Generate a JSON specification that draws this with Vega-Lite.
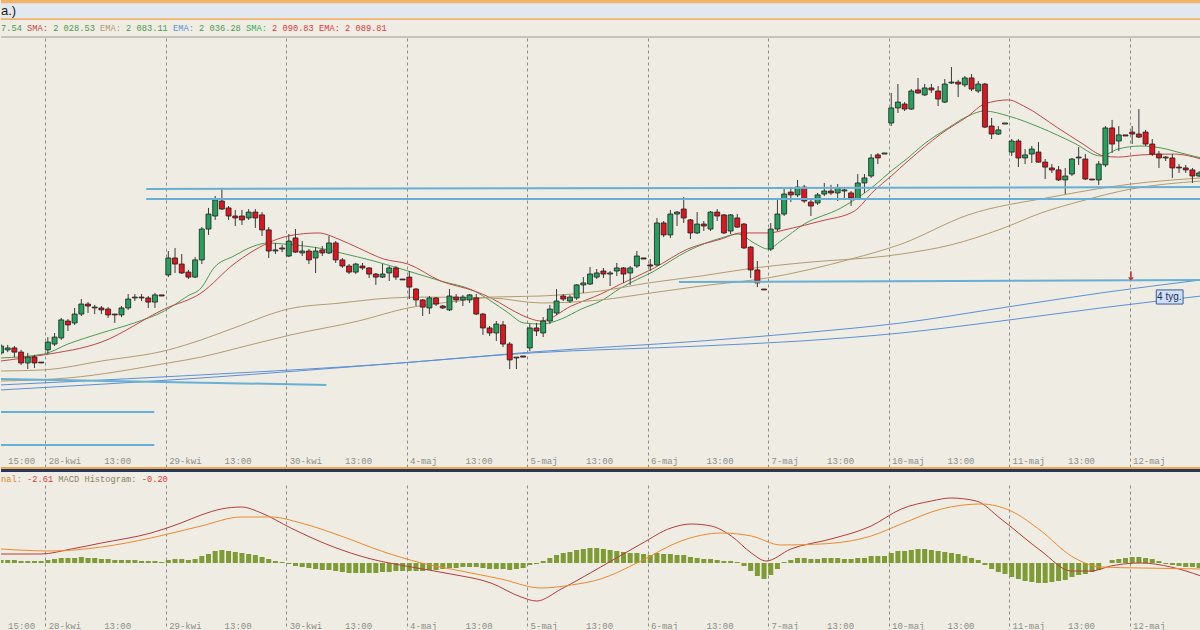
{
"$schema":"https://vega.github.io/schema/vega-lite/v6.json",
"background":"#EEECE3",
"padding":0,
"spacing":0,
"config":{"view":{"stroke":null},"concat":{"spacing":0}},
"datasets":{
"candles":[
{"i":11,"o":2002.1,"h":2006.2,"l":2001.2,"c":2005.3},{"i":12,"o":2003.5,"h":2005.8,"l":2002.5,"c":2004.4},{"i":13,"o":2004.4,"h":2005.3,"l":2000.2,"c":2002.5},{"i":14,"o":2002.5,"h":2003.5,"l":1996.6,"c":1997.5},{"i":15,"o":1997.5,"h":2002.1,"l":1994.7,"c":2000.2},{"i":16,"o":2000.2,"h":2001.2,"l":1995.2,"c":1997.5},{"i":17,"o":1997.9,"h":1997.9,"l":1997.5,"c":1997.5},
{"i":18,"o":2003.5,"h":2009.4,"l":2001.6,"c":2007.1},{"i":19,"o":2006.2,"h":2011.3,"l":2005.3,"c":2009.4},{"i":20,"o":2009.0,"h":2018.2,"l":2008.1,"c":2017.3},{"i":21,"o":2016.8,"h":2017.7,"l":2012.2,"c":2015.0},{"i":22,"o":2015.9,"h":2022.8,"l":2015.0,"c":2020.0},{"i":23,"o":2020.0,"h":2026.9,"l":2019.1,"c":2024.6},{"i":24,"o":2024.6,"h":2025.5,"l":2020.5,"c":2023.7},{"i":25,"o":2022.8,"h":2024.2,"l":2020.0,"c":2023.2},{"i":26,"o":2022.8,"h":2023.7,"l":2020.0,"c":2021.9},{"i":27,"o":2022.3,"h":2023.2,"l":2018.2,"c":2019.6},{"i":28,"o":2020.0,"h":2020.0,"l":2015.9,"c":2019.6},{"i":29,"o":2019.6,"h":2023.7,"l":2018.6,"c":2022.8},{"i":30,"o":2022.8,"h":2029.2,"l":2021.9,"c":2026.9},{"i":31,"o":2027.4,"h":2029.2,"l":2026.0,"c":2027.8},{"i":32,"o":2027.8,"h":2029.2,"l":2026.0,"c":2027.4},{"i":33,"o":2027.4,"h":2028.3,"l":2022.8,"c":2025.5},{"i":34,"o":2025.5,"h":2029.7,"l":2022.8,"c":2028.8},{"i":35,"o":2028.8,"h":2028.8,"l":2028.3,"c":2028.3},
{"i":36,"o":2038.0,"h":2049.0,"l":2037.0,"c":2045.8},{"i":37,"o":2045.8,"h":2050.4,"l":2038.9,"c":2043.0},{"i":38,"o":2043.0,"h":2047.6,"l":2038.4,"c":2038.9},{"i":39,"o":2039.3,"h":2040.3,"l":2036.1,"c":2037.0},{"i":40,"o":2037.0,"h":2046.2,"l":2036.6,"c":2044.9},{"i":41,"o":2044.9,"h":2060.0,"l":2043.0,"c":2059.1},{"i":42,"o":2059.1,"h":2068.8,"l":2056.4,"c":2066.0},{"i":43,"o":2065.1,"h":2074.3,"l":2063.3,"c":2072.5},{"i":44,"o":2072.0,"h":2078.0,"l":2067.9,"c":2068.3},{"i":45,"o":2068.8,"h":2069.7,"l":2063.3,"c":2065.1},{"i":46,"o":2065.1,"h":2067.9,"l":2060.5,"c":2064.2},{"i":47,"o":2065.1,"h":2067.9,"l":2061.0,"c":2063.3},{"i":48,"o":2064.2,"h":2068.3,"l":2063.3,"c":2066.9},{"i":49,"o":2066.9,"h":2068.3,"l":2059.6,"c":2064.2},{"i":50,"o":2065.6,"h":2066.9,"l":2055.9,"c":2058.7},{"i":51,"o":2058.7,"h":2060.0,"l":2045.8,"c":2049.0},{"i":52,"o":2049.0,"h":2052.7,"l":2047.6,"c":2049.5},{"i":53,"o":2050.4,"h":2051.8,"l":2048.5,"c":2049.9},
{"i":54,"o":2046.7,"h":2056.8,"l":2046.2,"c":2053.6},{"i":55,"o":2055.0,"h":2059.1,"l":2048.1,"c":2048.5},{"i":56,"o":2048.1,"h":2053.6,"l":2046.7,"c":2049.0},{"i":57,"o":2049.0,"h":2049.9,"l":2043.0,"c":2044.9},{"i":58,"o":2045.8,"h":2050.8,"l":2038.9,"c":2049.0},{"i":59,"o":2049.5,"h":2051.3,"l":2046.7,"c":2048.1},{"i":60,"o":2048.1,"h":2055.9,"l":2047.6,"c":2052.7},{"i":61,"o":2052.7,"h":2053.6,"l":2043.5,"c":2044.9},{"i":62,"o":2044.9,"h":2045.8,"l":2041.2,"c":2042.1},{"i":63,"o":2042.1,"h":2043.0,"l":2038.4,"c":2039.3},{"i":64,"o":2039.3,"h":2043.5,"l":2038.4,"c":2043.0},{"i":65,"o":2042.1,"h":2043.5,"l":2040.3,"c":2041.2},{"i":66,"o":2041.2,"h":2041.6,"l":2036.6,"c":2038.4},{"i":67,"o":2038.4,"h":2038.9,"l":2033.4,"c":2037.0},{"i":68,"o":2037.0,"h":2043.0,"l":2036.6,"c":2038.4},{"i":69,"o":2038.9,"h":2042.1,"l":2035.2,"c":2041.2},{"i":70,"o":2041.2,"h":2042.1,"l":2035.7,"c":2037.0},{"i":71,"o":2036.1,"h":2036.1,"l":2035.7,"c":2035.7},
{"i":72,"o":2037.0,"h":2039.8,"l":2026.9,"c":2032.4},{"i":73,"o":2031.5,"h":2032.0,"l":2023.7,"c":2026.5},{"i":74,"o":2026.5,"h":2026.9,"l":2019.1,"c":2023.2},{"i":75,"o":2022.8,"h":2028.3,"l":2020.0,"c":2027.4},{"i":76,"o":2027.4,"h":2027.8,"l":2023.7,"c":2024.6},{"i":77,"o":2023.7,"h":2024.2,"l":2022.3,"c":2022.8},{"i":78,"o":2021.9,"h":2031.5,"l":2021.4,"c":2028.3},{"i":79,"o":2027.8,"h":2029.2,"l":2025.1,"c":2026.5},{"i":80,"o":2026.5,"h":2028.8,"l":2023.7,"c":2027.8},{"i":81,"o":2026.5,"h":2029.2,"l":2025.1,"c":2028.8},{"i":82,"o":2027.4,"h":2029.2,"l":2019.6,"c":2020.0},{"i":83,"o":2020.0,"h":2020.5,"l":2010.4,"c":2013.6},{"i":84,"o":2013.6,"h":2014.5,"l":2009.9,"c":2011.3},{"i":85,"o":2011.3,"h":2016.8,"l":2007.6,"c":2015.4},{"i":86,"o":2015.0,"h":2016.8,"l":2004.8,"c":2006.2},{"i":87,"o":2006.2,"h":2007.1,"l":1994.7,"c":1998.9},{"i":88,"o":1999.8,"h":2000.2,"l":1994.7,"c":2000.2},{"i":89,"o":2000.7,"h":2000.7,"l":2000.2,"c":2000.2},
{"i":90,"o":2004.4,"h":2015.4,"l":2003.0,"c":2013.6},{"i":91,"o":2013.6,"h":2015.9,"l":2009.9,"c":2012.2},{"i":92,"o":2011.3,"h":2018.6,"l":2009.4,"c":2016.8},{"i":93,"o":2016.8,"h":2024.2,"l":2015.4,"c":2022.3},{"i":94,"o":2020.5,"h":2031.5,"l":2019.6,"c":2026.0},{"i":95,"o":2028.3,"h":2029.2,"l":2026.0,"c":2026.9},{"i":96,"o":2026.0,"h":2028.8,"l":2025.1,"c":2027.8},{"i":97,"o":2027.4,"h":2033.8,"l":2026.5,"c":2033.4},{"i":98,"o":2033.4,"h":2037.0,"l":2029.7,"c":2034.3},{"i":99,"o":2033.8,"h":2041.6,"l":2033.4,"c":2038.4},{"i":100,"o":2037.0,"h":2040.7,"l":2036.1,"c":2038.9},{"i":101,"o":2039.8,"h":2041.2,"l":2036.6,"c":2038.4},{"i":102,"o":2038.4,"h":2039.8,"l":2032.9,"c":2038.9},{"i":103,"o":2039.8,"h":2043.5,"l":2037.5,"c":2041.2},{"i":104,"o":2041.2,"h":2041.6,"l":2034.3,"c":2038.4},{"i":105,"o":2038.9,"h":2042.1,"l":2033.4,"c":2041.2},{"i":106,"o":2042.1,"h":2049.0,"l":2041.2,"c":2046.7},{"i":107,"o":2045.8,"h":2045.8,"l":2045.3,"c":2045.3},
{"i":108,"o":2042.6,"h":2045.3,"l":2039.8,"c":2042.1},{"i":109,"o":2042.6,"h":2064.2,"l":2042.1,"c":2061.9},{"i":110,"o":2061.9,"h":2062.8,"l":2055.4,"c":2056.4},{"i":111,"o":2056.4,"h":2067.9,"l":2055.0,"c":2066.0},{"i":112,"o":2066.0,"h":2067.4,"l":2060.5,"c":2066.9},{"i":113,"o":2068.3,"h":2073.8,"l":2061.9,"c":2064.2},{"i":114,"o":2063.3,"h":2063.7,"l":2054.5,"c":2057.3},{"i":115,"o":2057.3,"h":2066.9,"l":2056.8,"c":2061.4},{"i":116,"o":2061.4,"h":2062.8,"l":2058.2,"c":2060.5},{"i":117,"o":2059.1,"h":2067.4,"l":2058.2,"c":2066.9},{"i":118,"o":2066.9,"h":2068.3,"l":2062.8,"c":2065.1},{"i":119,"o":2065.6,"h":2066.0,"l":2056.8,"c":2057.3},{"i":120,"o":2058.2,"h":2066.0,"l":2056.8,"c":2065.6},{"i":121,"o":2064.2,"h":2066.0,"l":2059.6,"c":2060.0},{"i":122,"o":2061.4,"h":2061.9,"l":2049.9,"c":2050.4},{"i":123,"o":2050.8,"h":2051.3,"l":2036.6,"c":2040.3},{"i":124,"o":2040.3,"h":2044.4,"l":2032.4,"c":2034.3},{"i":125,"o":2031.5,"h":2031.5,"l":2031.1,"c":2031.1},
{"i":126,"o":2049.9,"h":2061.9,"l":2049.0,"c":2059.1},{"i":127,"o":2059.1,"h":2073.4,"l":2058.2,"c":2066.0},{"i":128,"o":2066.0,"h":2078.0,"l":2065.1,"c":2075.2},{"i":129,"o":2076.1,"h":2078.0,"l":2071.5,"c":2074.8},{"i":130,"o":2074.8,"h":2081.7,"l":2073.8,"c":2078.4},{"i":131,"o":2078.4,"h":2079.4,"l":2071.1,"c":2072.0},{"i":132,"o":2071.5,"h":2072.5,"l":2065.1,"c":2069.7},{"i":133,"o":2071.1,"h":2075.7,"l":2070.2,"c":2074.8},{"i":134,"o":2075.2,"h":2080.3,"l":2074.3,"c":2076.6},{"i":135,"o":2076.6,"h":2079.4,"l":2074.8,"c":2075.7},{"i":136,"o":2075.7,"h":2079.8,"l":2072.0,"c":2078.0},{"i":137,"o":2076.6,"h":2077.5,"l":2073.4,"c":2077.1},{"i":138,"o":2075.7,"h":2076.6,"l":2069.7,"c":2073.4},{"i":139,"o":2072.9,"h":2084.4,"l":2072.5,"c":2080.3},{"i":140,"o":2080.3,"h":2084.4,"l":2075.7,"c":2082.6},{"i":141,"o":2083.5,"h":2093.6,"l":2082.6,"c":2091.8},{"i":142,"o":2093.2,"h":2094.1,"l":2089.0,"c":2091.8},{"i":143,"o":2093.6,"h":2094.1,"l":2093.6,"c":2094.1},
{"i":144,"o":2107.9,"h":2121.7,"l":2106.5,"c":2114.8},{"i":145,"o":2114.8,"h":2125.8,"l":2112.5,"c":2117.5},{"i":146,"o":2116.6,"h":2117.5,"l":2113.4,"c":2114.3},{"i":147,"o":2114.3,"h":2123.5,"l":2113.9,"c":2122.6},{"i":148,"o":2123.1,"h":2128.6,"l":2121.2,"c":2121.7},{"i":149,"o":2120.8,"h":2125.8,"l":2120.3,"c":2124.0},{"i":150,"o":2124.0,"h":2125.8,"l":2121.7,"c":2123.1},{"i":151,"o":2122.6,"h":2124.9,"l":2115.7,"c":2118.9},{"i":152,"o":2117.5,"h":2128.1,"l":2117.1,"c":2125.8},{"i":153,"o":2126.3,"h":2133.6,"l":2125.8,"c":2126.7},{"i":154,"o":2126.7,"h":2127.7,"l":2119.8,"c":2125.8},{"i":155,"o":2125.4,"h":2129.5,"l":2124.4,"c":2128.6},{"i":156,"o":2128.6,"h":2130.4,"l":2122.6,"c":2123.5},{"i":157,"o":2122.6,"h":2127.2,"l":2121.7,"c":2125.8},{"i":158,"o":2125.8,"h":2126.3,"l":2105.6,"c":2106.0},{"i":159,"o":2106.5,"h":2110.2,"l":2100.5,"c":2102.8},{"i":160,"o":2102.8,"h":2106.5,"l":2102.4,"c":2104.7},{"i":161,"o":2107.4,"h":2107.9,"l":2107.4,"c":2107.9},
{"i":162,"o":2094.5,"h":2100.5,"l":2092.7,"c":2099.6},{"i":163,"o":2099.6,"h":2100.5,"l":2087.6,"c":2091.8},{"i":164,"o":2091.8,"h":2095.9,"l":2089.0,"c":2093.2},{"i":165,"o":2093.6,"h":2097.3,"l":2089.5,"c":2095.9},{"i":166,"o":2094.5,"h":2099.1,"l":2089.5,"c":2089.9},{"i":167,"o":2089.9,"h":2091.3,"l":2082.1,"c":2087.6},{"i":168,"o":2087.2,"h":2089.0,"l":2084.9,"c":2086.3},{"i":169,"o":2086.3,"h":2088.1,"l":2081.2,"c":2081.7},{"i":170,"o":2081.7,"h":2087.2,"l":2075.2,"c":2083.5},{"i":171,"o":2084.4,"h":2091.8,"l":2083.5,"c":2091.3},{"i":172,"o":2091.8,"h":2096.8,"l":2088.6,"c":2092.2},{"i":173,"o":2091.3,"h":2093.6,"l":2081.7,"c":2082.1},{"i":174,"o":2082.1,"h":2082.1,"l":2081.7,"c":2081.7},{"i":175,"o":2081.7,"h":2090.4,"l":2079.4,"c":2089.0},{"i":176,"o":2088.6,"h":2106.5,"l":2087.6,"c":2105.6},{"i":177,"o":2105.6,"h":2109.3,"l":2094.1,"c":2098.2},{"i":178,"o":2099.6,"h":2106.5,"l":2095.0,"c":2102.4},{"i":179,"o":2102.4,"h":2102.4,"l":2101.9,"c":2101.9},
{"i":180,"o":2103.7,"h":2106.5,"l":2098.2,"c":2102.8},{"i":181,"o":2102.8,"h":2114.3,"l":2101.0,"c":2101.4},{"i":182,"o":2103.7,"h":2104.7,"l":2097.3,"c":2098.2},{"i":183,"o":2098.2,"h":2100.5,"l":2092.7,"c":2093.6},{"i":184,"o":2093.6,"h":2095.0,"l":2087.2,"c":2091.8},{"i":185,"o":2092.2,"h":2092.7,"l":2090.4,"c":2091.8},{"i":186,"o":2091.8,"h":2093.6,"l":2082.6,"c":2087.2},{"i":187,"o":2087.6,"h":2089.0,"l":2084.9,"c":2087.2},{"i":188,"o":2087.2,"h":2088.6,"l":2084.9,"c":2086.3},{"i":189,"o":2086.3,"h":2087.2,"l":2080.3,"c":2083.5},{"i":190,"o":2083.5,"h":2085.8,"l":2083.0,"c":2084.9}
],
"ma":[
{"s":"fast","i":11.0,"p":1999.8},{"s":"fast","i":17.4,"p":2001.6},{"s":"fast","i":21.0,"p":2006.2},{"s":"fast","i":26.0,"p":2011.3},{"s":"fast","i":30.9,"p":2015.9},{"s":"fast","i":35.4,"p":2021.4},{"s":"fast","i":38.9,"p":2028.3},{"s":"fast","i":40.9,"p":2032.0},{"s":"fast","i":42.8,"p":2041.2},{"s":"fast","i":45.8,"p":2046.7},{"s":"fast","i":48.8,"p":2051.3},{"s":"fast","i":50.9,"p":2052.7},{"s":"fast","i":53.3,"p":2052.2},{"s":"fast","i":59.3,"p":2049.9},{"s":"fast","i":61.8,"p":2048.1},{"s":"fast","i":66.7,"p":2044.4},{"s":"fast","i":71.8,"p":2039.8},{"s":"fast","i":76.7,"p":2035.2},{"s":"fast","i":81.7,"p":2030.6},{"s":"fast","i":84.2,"p":2026.0},{"s":"fast","i":86.8,"p":2020.5},{"s":"fast","i":89.1,"p":2015.9},{"s":"fast","i":91.7,"p":2015.4},{"s":"fast","i":94.7,"p":2017.7},{"s":"fast","i":97.7,"p":2022.3},{"s":"fast","i":100.6,"p":2026.0},{"s":"fast","i":103.6,"p":2032.0},{"s":"fast","i":108.6,"p":2039.8},{"s":"fast","i":113.6,"p":2049.0},{"s":"fast","i":118.6,"p":2055.0},{"s":"fast","i":121.1,"p":2056.8},{"s":"fast","i":123.5,"p":2052.7},{"s":"fast","i":125.6,"p":2049.9},{"s":"fast","i":127.5,"p":2053.6},{"s":"fast","i":131.0,"p":2061.4},{"s":"fast","i":136.5,"p":2068.8},{"s":"fast","i":141.4,"p":2078.9},{"s":"fast","i":144.0,"p":2085.8},{"s":"fast","i":146.5,"p":2091.8},{"s":"fast","i":148.9,"p":2098.2},{"s":"fast","i":152.5,"p":2105.6},{"s":"fast","i":155.5,"p":2111.1},{"s":"fast","i":157.9,"p":2113.4},{"s":"fast","i":161.5,"p":2111.1},{"s":"fast","i":166.4,"p":2105.6},{"s":"fast","i":171.3,"p":2098.7},{"s":"fast","i":175.3,"p":2092.7},{"s":"fast","i":177.9,"p":2095.9},{"s":"fast","i":181.3,"p":2097.3},{"s":"fast","i":184.3,"p":2096.4},{"s":"fast","i":187.3,"p":2094.1},{"s":"fast","i":190.3,"p":2091.8},
{"s":"mid","i":11.0,"p":1998.4},{"s":"mid","i":17.4,"p":2001.2},{"s":"mid","i":26.0,"p":2007.1},{"s":"mid","i":35.4,"p":2022.3},{"s":"mid","i":40.9,"p":2029.7},{"s":"mid","i":45.8,"p":2043.0},{"s":"mid","i":50.9,"p":2052.7},{"s":"mid","i":53.9,"p":2055.9},{"s":"mid","i":58.4,"p":2057.3},{"s":"mid","i":61.4,"p":2054.5},{"s":"mid","i":64.4,"p":2050.4},{"s":"mid","i":68.2,"p":2045.3},{"s":"mid","i":71.8,"p":2043.0},{"s":"mid","i":76.7,"p":2035.2},{"s":"mid","i":81.7,"p":2030.6},{"s":"mid","i":84.2,"p":2027.4},{"s":"mid","i":86.8,"p":2022.8},{"s":"mid","i":89.1,"p":2019.1},{"s":"mid","i":91.7,"p":2016.8},{"s":"mid","i":96.2,"p":2023.7},{"s":"mid","i":100.6,"p":2029.2},{"s":"mid","i":103.6,"p":2033.8},{"s":"mid","i":108.6,"p":2041.2},{"s":"mid","i":113.6,"p":2049.9},{"s":"mid","i":118.6,"p":2054.5},{"s":"mid","i":121.6,"p":2057.3},{"s":"mid","i":125.6,"p":2057.3},{"s":"mid","i":128.6,"p":2059.1},{"s":"mid","i":133.5,"p":2062.8},{"s":"mid","i":138.5,"p":2067.4},{"s":"mid","i":141.4,"p":2076.6},{"s":"mid","i":144.0,"p":2083.5},{"s":"mid","i":146.5,"p":2090.4},{"s":"mid","i":151.4,"p":2102.8},{"s":"mid","i":155.5,"p":2111.1},{"s":"mid","i":157.9,"p":2116.6},{"s":"mid","i":161.5,"p":2118.5},{"s":"mid","i":163.8,"p":2115.7},{"s":"mid","i":168.9,"p":2105.6},{"s":"mid","i":172.4,"p":2098.7},{"s":"mid","i":175.8,"p":2092.7},{"s":"mid","i":177.9,"p":2092.2},{"s":"mid","i":181.3,"p":2093.2},{"s":"mid","i":186.3,"p":2093.6},{"s":"mid","i":190.3,"p":2091.3},
{"s":"olive","i":11.0,"p":1993.8},{"s":"olive","i":17.4,"p":1994.3},{"s":"olive","i":26.0,"p":1998.4},{"s":"olive","i":36.0,"p":2003.5},{"s":"olive","i":40.9,"p":2008.1},{"s":"olive","i":45.8,"p":2013.6},{"s":"olive","i":53.9,"p":2022.3},{"s":"olive","i":61.8,"p":2025.1},{"s":"olive","i":69.3,"p":2027.4},{"s":"olive","i":74.2,"p":2027.8},{"s":"olive","i":84.2,"p":2027.4},{"s":"olive","i":91.7,"p":2025.1},{"s":"olive","i":100.6,"p":2026.5},{"s":"olive","i":108.1,"p":2029.7},{"s":"olive","i":115.6,"p":2032.9},{"s":"olive","i":125.5,"p":2036.6},{"s":"olive","i":138.0,"p":2045.3},{"s":"olive","i":145.5,"p":2052.2},{"s":"olive","i":155.5,"p":2065.6},{"s":"olive","i":167.9,"p":2073.8},{"s":"olive","i":179.8,"p":2079.8},{"s":"olive","i":190.3,"p":2082.6},
{"s":"teal","i":11.0,"p":1989.2},{"s":"teal","i":21.0,"p":1990.6},{"s":"teal","i":36.0,"p":1997.5},{"s":"teal","i":40.9,"p":2000.2},{"s":"teal","i":45.8,"p":2003.9},{"s":"teal","i":54.3,"p":2010.4},{"s":"teal","i":64.4,"p":2016.8},{"s":"teal","i":71.8,"p":2022.8},{"s":"teal","i":79.3,"p":2026.0},{"s":"teal","i":84.2,"p":2027.8},{"s":"teal","i":91.7,"p":2028.3},{"s":"teal","i":100.6,"p":2030.6},{"s":"teal","i":107.7,"p":2034.3},{"s":"teal","i":115.6,"p":2037.5},{"s":"teal","i":123.5,"p":2041.2},{"s":"teal","i":130.5,"p":2043.5},{"s":"teal","i":145.5,"p":2047.6},{"s":"teal","i":152.9,"p":2051.8},{"s":"teal","i":160.4,"p":2059.1},{"s":"teal","i":166.4,"p":2066.5},{"s":"teal","i":172.4,"p":2072.0},{"s":"teal","i":179.8,"p":2077.5},{"s":"teal","i":190.3,"p":2081.2},
{"s":"blue","i":11.0,"p":1987.4},{"s":"blue","i":40.9,"p":1992.0},{"s":"blue","i":70.8,"p":1997.5},{"s":"blue","i":90.2,"p":2002.5},{"s":"blue","i":115.6,"p":2007.6},{"s":"blue","i":130.5,"p":2011.3},{"s":"blue","i":145.5,"p":2015.9},{"s":"blue","i":160.4,"p":2022.8},{"s":"blue","i":175.3,"p":2029.7},{"s":"blue","i":190.3,"p":2035.7},
{"s":"long","i":11.0,"p":1985.1},{"s":"long","i":40.9,"p":1990.6},{"s":"long","i":70.8,"p":1997.5},{"s":"long","i":90.2,"p":2002.1},{"s":"long","i":115.6,"p":2005.3},{"s":"long","i":130.5,"p":2007.6},{"s":"long","i":145.5,"p":2011.3},{"s":"long","i":160.4,"p":2016.8},{"s":"long","i":175.3,"p":2022.8},{"s":"long","i":190.3,"p":2028.3}
],
"trend":[
{"i":32.7,"i2":190.3,"p":2077.5,"p2":2078.4},
{"i":32.7,"i2":190.3,"p":2072.9,"p2":2072.9},
{"i":112.3,"i2":190.3,"p":2034.7,"p2":2035.7},
{"i":11.0,"i2":59.6,"p":1990.1,"p2":1987.4},
{"i":11.0,"i2":33.9,"p":1974.9,"p2":1974.9},
{"i":11.0,"i2":33.9,"p":1959.8,"p2":1959.8}
],
"arrow":[{"i":179.8,"p":2037.5,"t":"↓"}],
"box":[{"i":183.6,"i2":187.6,"p":2024.6,"p2":2031.1,"t":"4 tyg."}],
"hist":[
{"i":11,"h":1.2},{"i":12,"h":1.2},{"i":13,"h":1.2},{"i":14,"h":0.8},{"i":15,"h":0.8},{"i":16,"h":0.8},{"i":17,"h":0.8},
{"i":18,"h":1.2},{"i":19,"h":1.6},{"i":20,"h":2},{"i":21,"h":2},{"i":22,"h":2},{"i":23,"h":2.4},{"i":24,"h":2},{"i":25,"h":2},{"i":26,"h":1.6},{"i":27,"h":1.6},{"i":28,"h":1.2},{"i":29,"h":1.2},{"i":30,"h":1.2},{"i":31,"h":1.2},{"i":32,"h":0.8},{"i":33,"h":0.8},{"i":34,"h":0.8},{"i":35,"h":0.4},
{"i":36,"h":1.2},{"i":37,"h":1.6},{"i":38,"h":1.6},{"i":39,"h":1.2},{"i":40,"h":1.6},{"i":41,"h":2.8},{"i":42,"h":3.6},{"i":43,"h":4.8},{"i":44,"h":5.2},{"i":45,"h":4.8},{"i":46,"h":4.4},{"i":47,"h":4},{"i":48,"h":3.6},{"i":49,"h":3.2},{"i":50,"h":2.4},{"i":51,"h":1.6},{"i":52,"h":0.8},{"i":53,"h":0.4},
{"i":54,"h":-0.4},{"i":55,"h":-1.2},{"i":56,"h":-1.6},{"i":57,"h":-2},{"i":58,"h":-2.4},{"i":59,"h":-2.8},{"i":60,"h":-2.8},{"i":61,"h":-3.2},{"i":62,"h":-3.6},{"i":63,"h":-4},{"i":64,"h":-4},{"i":65,"h":-4},{"i":66,"h":-4},{"i":67,"h":-4},{"i":68,"h":-3.6},{"i":69,"h":-3.6},{"i":70,"h":-3.2},{"i":71,"h":-3.2},
{"i":72,"h":-3.2},{"i":73,"h":-3.2},{"i":74,"h":-3.2},{"i":75,"h":-2.8},{"i":76,"h":-2.8},{"i":77,"h":-2.4},{"i":78,"h":-2},{"i":79,"h":-2},{"i":80,"h":-1.6},{"i":81,"h":-1.6},{"i":82,"h":-1.6},{"i":83,"h":-2},{"i":84,"h":-2.4},{"i":85,"h":-2.4},{"i":86,"h":-2.4},{"i":87,"h":-2.8},{"i":88,"h":-2.4},{"i":89,"h":-2},
{"i":90,"h":-0.8},{"i":91,"h":-0.4},{"i":92,"h":0.8},{"i":93,"h":2},{"i":94,"h":3.2},{"i":95,"h":4},{"i":96,"h":4.4},{"i":97,"h":5.2},{"i":98,"h":5.6},{"i":99,"h":6},{"i":100,"h":6},{"i":101,"h":5.6},{"i":102,"h":5.2},{"i":103,"h":4.8},{"i":104,"h":4.4},{"i":105,"h":4},{"i":106,"h":4},{"i":107,"h":3.6},
{"i":108,"h":3.2},{"i":109,"h":4},{"i":110,"h":3.6},{"i":111,"h":3.6},{"i":112,"h":3.2},{"i":113,"h":3.2},{"i":114,"h":2.4},{"i":115,"h":2},{"i":116,"h":1.6},{"i":117,"h":1.6},{"i":118,"h":1.2},{"i":119,"h":0.8},{"i":120,"h":0.8},{"i":121,"h":0.4},
{"i":122,"h":-1.2},{"i":123,"h":-3.2},{"i":124,"h":-5.2},{"i":125,"h":-6.4},{"i":126,"h":-4.8},{"i":127,"h":-2.4},
{"i":128,"h":0.4},{"i":129,"h":1.2},{"i":130,"h":2},{"i":131,"h":2},{"i":132,"h":1.6},{"i":133,"h":1.6},{"i":134,"h":2},{"i":135,"h":2},{"i":136,"h":2},{"i":137,"h":1.6},{"i":138,"h":1.6},{"i":139,"h":2},{"i":140,"h":2},{"i":141,"h":2.8},{"i":142,"h":2.8},{"i":143,"h":2.8},
{"i":144,"h":4},{"i":145,"h":4.8},{"i":146,"h":4.8},{"i":147,"h":5.2},{"i":148,"h":5.6},{"i":149,"h":5.6},{"i":150,"h":5.2},{"i":151,"h":4.8},{"i":152,"h":4.4},{"i":153,"h":4},{"i":154,"h":3.6},{"i":155,"h":2.8},{"i":156,"h":2},{"i":157,"h":1.2},
{"i":158,"h":-0.8},{"i":159,"h":-2.4},{"i":160,"h":-3.6},{"i":161,"h":-4.4},{"i":162,"h":-5.6},{"i":163,"h":-6.4},{"i":164,"h":-7.2},{"i":165,"h":-7.6},{"i":166,"h":-8},{"i":167,"h":-8},{"i":168,"h":-7.6},{"i":169,"h":-7.2},{"i":170,"h":-6.8},{"i":171,"h":-5.6},{"i":172,"h":-4.8},{"i":173,"h":-4.4},{"i":174,"h":-3.6},{"i":175,"h":-2.8},
{"i":176,"h":0},{"i":177,"h":1.2},{"i":178,"h":1.6},{"i":179,"h":2},{"i":180,"h":2.4},{"i":181,"h":2.4},{"i":182,"h":2},{"i":183,"h":1.6},{"i":184,"h":0.8},
{"i":185,"h":-0.4},{"i":186,"h":-0.8},{"i":187,"h":-1.2},{"i":188,"h":-1.6},{"i":189,"h":-1.6},{"i":190,"h":-2}
],
"macd":[
{"s":"macd","i":11,"v":3.6},{"s":"macd","i":17,"v":3.6},{"s":"macd","i":21.5,"v":5.6},{"s":"macd","i":26,"v":8},{"s":"macd","i":33.4,"v":12},{"s":"macd","i":37.9,"v":16},{"s":"macd","i":40.9,"v":19.2},{"s":"macd","i":43.9,"v":21.6},{"s":"macd","i":46.9,"v":22.4},{"s":"macd","i":49.9,"v":20},{"s":"macd","i":54.3,"v":14},{"s":"macd","i":60.3,"v":6.8},{"s":"macd","i":66.3,"v":1.6},{"s":"macd","i":72.3,"v":-1.6},{"s":"macd","i":78.2,"v":-4.4},{"s":"macd","i":84.2,"v":-8},{"s":"macd","i":88.7,"v":-13.6},{"s":"macd","i":91,"v":-15.2},{"s":"macd","i":94.7,"v":-10.4},{"s":"macd","i":100.6,"v":-1.6},{"s":"macd","i":106.6,"v":7.6},{"s":"macd","i":111.1,"v":14},{"s":"macd","i":114.1,"v":15.6},{"s":"macd","i":117.1,"v":14.8},{"s":"macd","i":120.1,"v":10.8},{"s":"macd","i":123.1,"v":4},{"s":"macd","i":125.3,"v":0.8},{"s":"macd","i":129,"v":5.6},{"s":"macd","i":135,"v":9.6},{"s":"macd","i":141,"v":14.8},{"s":"macd","i":145.5,"v":21.6},{"s":"macd","i":150,"v":24.8},{"s":"macd","i":152.9,"v":26},{"s":"macd","i":156.7,"v":24.8},{"s":"macd","i":160.4,"v":17.6},{"s":"macd","i":166.4,"v":4.8},{"s":"macd","i":170.9,"v":-3.2},{"s":"macd","i":173.9,"v":-3.2},{"s":"macd","i":176.8,"v":-1.2},{"s":"macd","i":181.3,"v":0},{"s":"macd","i":185.8,"v":-1.6},{"s":"macd","i":190.3,"v":-5.2},
{"s":"signal","i":11,"v":5.6},{"s":"signal","i":18.5,"v":4.8},{"s":"signal","i":26,"v":6.4},{"s":"signal","i":33.4,"v":10},{"s":"signal","i":40.9,"v":14.8},{"s":"signal","i":46.9,"v":18.4},{"s":"signal","i":51.4,"v":18.4},{"s":"signal","i":55.8,"v":16},{"s":"signal","i":61.8,"v":10.8},{"s":"signal","i":67.8,"v":4.8},{"s":"signal","i":73.8,"v":0},{"s":"signal","i":79.7,"v":-3.2},{"s":"signal","i":85.7,"v":-6.4},{"s":"signal","i":91.7,"v":-10},{"s":"signal","i":96.2,"v":-8.8},{"s":"signal","i":100.6,"v":-6.4},{"s":"signal","i":106.6,"v":0.8},{"s":"signal","i":112.6,"v":8.8},{"s":"signal","i":118.6,"v":12},{"s":"signal","i":123.1,"v":10.8},{"s":"signal","i":127.5,"v":7.2},{"s":"signal","i":133.5,"v":7.6},{"s":"signal","i":141,"v":10.8},{"s":"signal","i":145.5,"v":15.6},{"s":"signal","i":151.5,"v":21.6},{"s":"signal","i":157.4,"v":23.6},{"s":"signal","i":161.9,"v":20.8},{"s":"signal","i":166.4,"v":12.8},{"s":"signal","i":170.9,"v":2.8},{"s":"signal","i":175.3,"v":-1.6},{"s":"signal","i":181.3,"v":-2},{"s":"signal","i":190.3,"v":-2.4}
],
"hdr":[
{"t":"7.54\u00a0\u00a0\u00a0\u00a0\u00a0\u00a02\u00a0028.53\u00a0\u00a0\u00a0\u00a0\u00a0\u00a02\u00a0083.11\u00a0\u00a0\u00a0\u00a0\u00a0\u00a02\u00a0036.28","g":"up"},
{"t":"\u200b\u00a0\u00a0\u00a0\u00a0\u00a0SMA:","g":"sma200"},
{"t":"\u200b\u00a0\u00a0\u00a0\u00a0\u00a0\u00a0\u00a0\u00a0\u00a0\u00a0\u00a0\u00a0\u00a0\u00a0\u00a0\u00a0\u00a0\u00a0\u00a0EMA:","g":"olive"},
{"t":"\u200b\u00a0\u00a0\u00a0\u00a0\u00a0\u00a0\u00a0\u00a0\u00a0\u00a0\u00a0\u00a0\u00a0\u00a0\u00a0\u00a0\u00a0\u00a0\u00a0\u00a0\u00a0\u00a0\u00a0\u00a0\u00a0\u00a0\u00a0\u00a0\u00a0\u00a0\u00a0\u00a0\u00a0EMA:","g":"blue"},
{"t":"\u200b\u00a0\u00a0\u00a0\u00a0\u00a0\u00a0\u00a0\u00a0\u00a0\u00a0\u00a0\u00a0\u00a0\u00a0\u00a0\u00a0\u00a0\u00a0\u00a0\u00a0\u00a0\u00a0\u00a0\u00a0\u00a0\u00a0\u00a0\u00a0\u00a0\u00a0\u00a0\u00a0\u00a0\u00a0\u00a0\u00a0\u00a0\u00a0\u00a0\u00a0\u00a0\u00a0\u00a0\u00a0\u00a0\u00a0\u00a0SMA:","g":"green"},
{"t":"\u200b\u00a0\u00a0\u00a0\u00a0\u00a0\u00a0\u00a0\u00a0\u00a0\u00a0\u00a0\u00a0\u00a0\u00a0\u00a0\u00a0\u00a0\u00a0\u00a0\u00a0\u00a0\u00a0\u00a0\u00a0\u00a0\u00a0\u00a0\u00a0\u00a0\u00a0\u00a0\u00a0\u00a0\u00a0\u00a0\u00a0\u00a0\u00a0\u00a0\u00a0\u00a0\u00a0\u00a0\u00a0\u00a0\u00a0\u00a0\u00a0\u00a0\u00a0\u00a0\u00a02\u00a0090.83\u00a0EMA:\u00a02\u00a0089.81","g":"down"}
],
"hdr2":[
{"t":"nal:","g":"sig"},
{"t":"\u200b\u00a0\u00a0\u00a0\u00a0\u00a0-2.61\u00a0\u00a0\u00a0\u00a0\u00a0\u00a0\u00a0\u00a0\u00a0\u00a0\u00a0\u00a0\u00a0\u00a0\u00a0\u00a0\u00a0-0.20","g":"val"},
{"t":"\u200b\u00a0\u00a0\u00a0\u00a0\u00a0\u00a0\u00a0\u00a0\u00a0\u00a0\u00a0MACD\u00a0Histogram:","g":"lbl"}
]
},
"vconcat":[
{
"width":1200,"height":20,
"view":{"fill":"#F1B26A","stroke":null},
"layer":[
{"data":{"values":[{}]},"mark":{"type":"rect","color":"#E3E8EE"},
"encoding":{"y":{"datum":0.09,"type":"quantitative","scale":{"domain":[0,1]},"axis":null},"y2":{"datum":0.84}}},
{"data":{"values":[{"t":"a.)"}]},"mark":{"type":"text","align":"left","baseline":"middle","font":"Liberation Sans","fontSize":13,"color":"#1a1a1a"},
"encoding":{"text":{"field":"t"},"x":{"datum":0,"type":"quantitative","scale":{"domain":[0,1]},"axis":null},"y":{"datum":0.46,"type":"quantitative","scale":{"domain":[0,1]},"axis":null}}}
]
},
{
"width":1200,"height":17,
"layer":[
{"data":{"name":"hdr"},"mark":{"type":"text","align":"left","baseline":"middle","font":"Liberation Mono","fontSize":8.7},
"encoding":{"text":{"field":"t"},
"color":{"field":"g","type":"nominal","legend":null,"scale":{"domain":["up","sma200","olive","blue","green","down"],"range":["#4E9A52","#C24848","#B49A70","#5E8FD6","#2FAF5C","#E03A3A"]}},
"x":{"datum":0,"type":"quantitative","scale":{"domain":[0,1]},"axis":null},
"y":{"datum":0.55,"type":"quantitative","scale":{"domain":[0,1]},"axis":null}}},
{"data":{"values":[{}]},"mark":{"type":"rule","color":"#9c9c96","strokeWidth":1},
"encoding":{"y":{"datum":0,"type":"quantitative","scale":{"domain":[0,1]},"axis":null}}}
]
},
{
"width":1200,"height":429,
"encoding":{
"x":{"field":"i","type":"quantitative","scale":{"domain":[11.0,190.28],"nice":false,"zero":false,"padding":0},
"axis":{"title":null,"orient":"bottom","offset":-11,"domain":false,"ticks":false,"labelPadding":0,
"values":[14.0,17.6,28.35,35.6,46.35,53.6,64.35,71.6,82.35,89.6,100.35,107.6,118.35,125.6,136.35,143.6,154.35,161.6,172.35,179.6],
"labelExpr":"datum.value < 15 ? '15:00' : (abs((datum.value + 0.4) / 18 - round((datum.value + 0.4) / 18)) < 0.01 ? ['28-kwi','29-kwi','30-kwi','4-maj','5-maj','6-maj','7-maj','10-maj','11-maj','12-maj'][round((datum.value + 0.4) / 18) - 1] : '13:00')",
"labelFont":"Liberation Mono","labelFontSize":9,"labelColor":"#8e8e8a","labelBaseline":"top","labelOverlap":false,"labelBound":false,"labelFlush":false,
"labelAlign":{"condition":{"test":"abs((datum.value + 0.4) / 18 - round((datum.value + 0.4) / 18)) < 0.01","value":"left"},"value":"center"},
"labelOffset":{"condition":{"test":"abs((datum.value + 0.4) / 18 - round((datum.value + 0.4) / 18)) < 0.01","value":3},"value":0},
"grid":true,"gridColor":"#8c8c88","gridDash":[3,3],"gridWidth":1,
"gridOpacity":{"condition":{"test":"abs((datum.value + 0.4) / 18 - round((datum.value + 0.4) / 18)) < 0.01","value":1},"value":0}}}
},
"layer":[
{"data":{"name":"ma"},"mark":{"type":"line","strokeWidth":1,"interpolate":"monotone","clip":true},
"encoding":{
"y":{"field":"p","type":"quantitative","scale":{"domain":[1949.64,2146.98],"nice":false,"zero":false},"axis":null},
"color":{"field":"s","type":"nominal","legend":null,"scale":{"domain":["fast","mid","olive","teal","blue","long"],"range":["#DA5F5F","#3DB35F","#A8A276","#30B068","#5C8FD8","#B83232"]}}}},
{"data":{"name":"candles"},"mark":{"type":"rule","color":"#3a3a3a","strokeWidth":1,"clip":true},
"encoding":{
"y":{"field":"l","type":"quantitative","scale":{"domain":[1949.64,2146.98],"nice":false,"zero":false},"axis":null},
"y2":{"field":"h"}}},
{"data":{"name":"candles"},"mark":{"type":"bar","width":5,"stroke":"#202020","strokeWidth":0.8,"clip":true},
"encoding":{
"y":{"field":"o","type":"quantitative","scale":{"domain":[1949.64,2146.98],"nice":false,"zero":false},"axis":null},
"y2":{"field":"c"},
"fill":{"condition":{"test":"datum.c >= datum.o","value":"#27A05E"},"value":"#E0141E"}}},
{"data":{"name":"trend"},"mark":{"type":"rule","color":"#66AFD6","strokeWidth":2,"clip":true},
"encoding":{
"x2":{"field":"i2"},
"y":{"field":"p","type":"quantitative","scale":{"domain":[1949.64,2146.98],"nice":false,"zero":false},"axis":null},
"y2":{"field":"p2"}}},
{"data":{"name":"arrow"},"mark":{"type":"text","font":"DejaVu Sans","fontSize":12,"fontWeight":"bold","color":"#D02828","baseline":"middle"},
"encoding":{
"y":{"field":"p","type":"quantitative","scale":{"domain":[1949.64,2146.98],"nice":false,"zero":false},"axis":null},
"text":{"field":"t"}}},
{"data":{"name":"box"},"mark":{"type":"rect","fill":"#CFE0F4","stroke":"#3A5A9E","strokeWidth":1},
"encoding":{
"x2":{"field":"i2"},
"y":{"field":"p","type":"quantitative","scale":{"domain":[1949.64,2146.98],"nice":false,"zero":false},"axis":null},
"y2":{"field":"p2"}}},
{"data":{"name":"box"},"mark":{"type":"text","font":"Liberation Sans","fontSize":10,"color":"#1E2F60","baseline":"middle","align":"center","dx":13,"dy":-7},
"encoding":{
"y":{"field":"p","type":"quantitative","scale":{"domain":[1949.64,2146.98],"nice":false,"zero":false},"axis":null},
"text":{"field":"t"}}}
]
},
{
"width":1200,"height":18,
"layer":[
{"data":{"values":[{}]},"mark":{"type":"rect","color":"#F0A64C"},
"encoding":{"y":{"datum":16,"type":"quantitative","scale":{"domain":[0,18]},"axis":null},"y2":{"datum":18}}},
{"data":{"values":[{}]},"mark":{"type":"rect","color":"#27385C"},
"encoding":{"y":{"datum":13,"type":"quantitative","scale":{"domain":[0,18]},"axis":null},"y2":{"datum":16}}},
{"data":{"name":"hdr2"},"mark":{"type":"text","align":"left","baseline":"middle","font":"Liberation Mono","fontSize":8.7},
"encoding":{
"x":{"datum":0,"type":"quantitative","scale":{"domain":[0,1]},"axis":null},
"y":{"datum":6,"type":"quantitative","scale":{"domain":[0,18]},"axis":null},
"text":{"field":"t"},
"fill":{"field":"g","type":"nominal","legend":null,"scale":{"domain":["sig","val","lbl"],"range":["#E0842E","#E03A3A","#8E8266"]}}}}
]
},
{
"width":1200,"height":146,
"encoding":{
"x":{"field":"i","type":"quantitative","scale":{"domain":[11.0,190.28],"nice":false,"zero":false,"padding":0},
"axis":{"title":null,"orient":"bottom","offset":-10,"domain":false,"ticks":false,"labelPadding":0,
"values":[14.0,17.6,28.35,35.6,46.35,53.6,64.35,71.6,82.35,89.6,100.35,107.6,118.35,125.6,136.35,143.6,154.35,161.6,172.35,179.6],
"labelExpr":"datum.value < 15 ? '15:00' : (abs((datum.value + 0.4) / 18 - round((datum.value + 0.4) / 18)) < 0.01 ? ['28-kwi','29-kwi','30-kwi','4-maj','5-maj','6-maj','7-maj','10-maj','11-maj','12-maj'][round((datum.value + 0.4) / 18) - 1] : '13:00')",
"labelFont":"Liberation Mono","labelFontSize":9,"labelColor":"#8e8e8a","labelBaseline":"top","labelOverlap":false,"labelBound":false,"labelFlush":false,
"labelAlign":{"condition":{"test":"abs((datum.value + 0.4) / 18 - round((datum.value + 0.4) / 18)) < 0.01","value":"left"},"value":"center"},
"labelOffset":{"condition":{"test":"abs((datum.value + 0.4) / 18 - round((datum.value + 0.4) / 18)) < 0.01","value":3},"value":0},
"grid":true,"gridColor":"#8c8c88","gridDash":[3,3],"gridWidth":1,
"gridOpacity":{"condition":{"test":"abs((datum.value + 0.4) / 18 - round((datum.value + 0.4) / 18)) < 0.01","value":1},"value":0}}}
},
"layer":[
{"data":{"name":"hist"},"mark":{"type":"bar","width":5,"color":"#7E9B35","clip":true},
"encoding":{
"y":{"field":"h","type":"quantitative","scale":{"domain":[-27.2,31.2],"nice":false,"zero":false},"axis":null},
"y2":{"datum":0}}},
{"data":{"name":"macd"},"mark":{"type":"line","strokeWidth":1,"interpolate":"monotone","clip":true},
"encoding":{
"y":{"field":"v","type":"quantitative","scale":{"domain":[-27.2,31.2],"nice":false,"zero":false},"axis":null},
"stroke":{"field":"s","type":"nominal","legend":null,"scale":{"domain":["macd","signal"],"range":["#B83C3C","#F0892E"]}}}}
]
}
]
}
